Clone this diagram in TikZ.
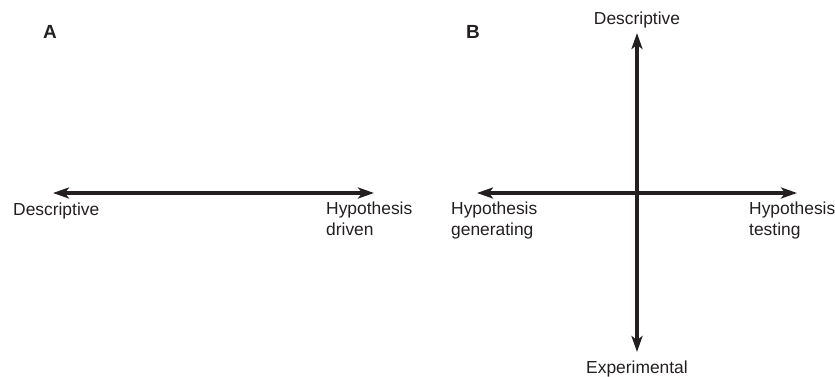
\documentclass[tikz,border=0pt]{standalone}
\usepackage{fontspec}
\setmainfont{Liberation Sans}
\usepackage{tikz}
\usetikzlibrary{arrows.meta,positioning}

\begin{document}
\begin{tikzpicture}[x=1pt,y=-1pt]
    \tikzstyle{every node}+=[inner sep=0pt]
    \tikzstyle{axis}=[line width=3.5pt,draw={rgb,255:red,35;green,31;blue,32},
      {Stealth[length=16pt,width=11pt,inset=4pt]}-{Stealth[length=16pt,width=11pt,inset=4pt]}]
    \tikzstyle{lbl}=[font=\fontsize{17.4}{21}\selectfont,align=left,text={rgb,255:red,35;green,31;blue,32}]
    \tikzstyle{panel}=[font=\fontsize{19}{21}\selectfont\bfseries,text={rgb,255:red,35;green,31;blue,32}]
    \useasboundingbox (0,0) rectangle (835,377);
    % panel A
    \node [panel,anchor=base west] (A) at (43,39) {A};
    \coordinate (aL) at (53,193);
    \coordinate (aR) at (374,193);
    \draw [axis] (aL) -- (aR);
    \node [lbl,anchor=base west] (descA) at (13,215) {Descriptive};
    \node [lbl,anchor=north west] (hypA) at (326,202) {Hypothesis\\driven};
    % panel B
    \node [panel,anchor=base west] (B) at (466,39) {B};
    \coordinate (bL) at (477,193);
    \coordinate (bR) at (797,193);
    \coordinate (bT) at (637,33);
    \coordinate (bB) at (637,352);
    \draw [axis] (bL) -- (bR);
    \draw [axis] (bB) -- (bT);
    \node [lbl,anchor=base] (descB) at (637,25) {Descriptive};
    \node [lbl,anchor=base] (expB) at (637,373) {Experimental};
    \node [lbl,anchor=north west] (genB) at (451,202) {Hypothesis\\generating};
    \node [lbl,anchor=north west] (testB) at (749,202) {Hypothesis\\testing};
\end{tikzpicture}
\end{document}
